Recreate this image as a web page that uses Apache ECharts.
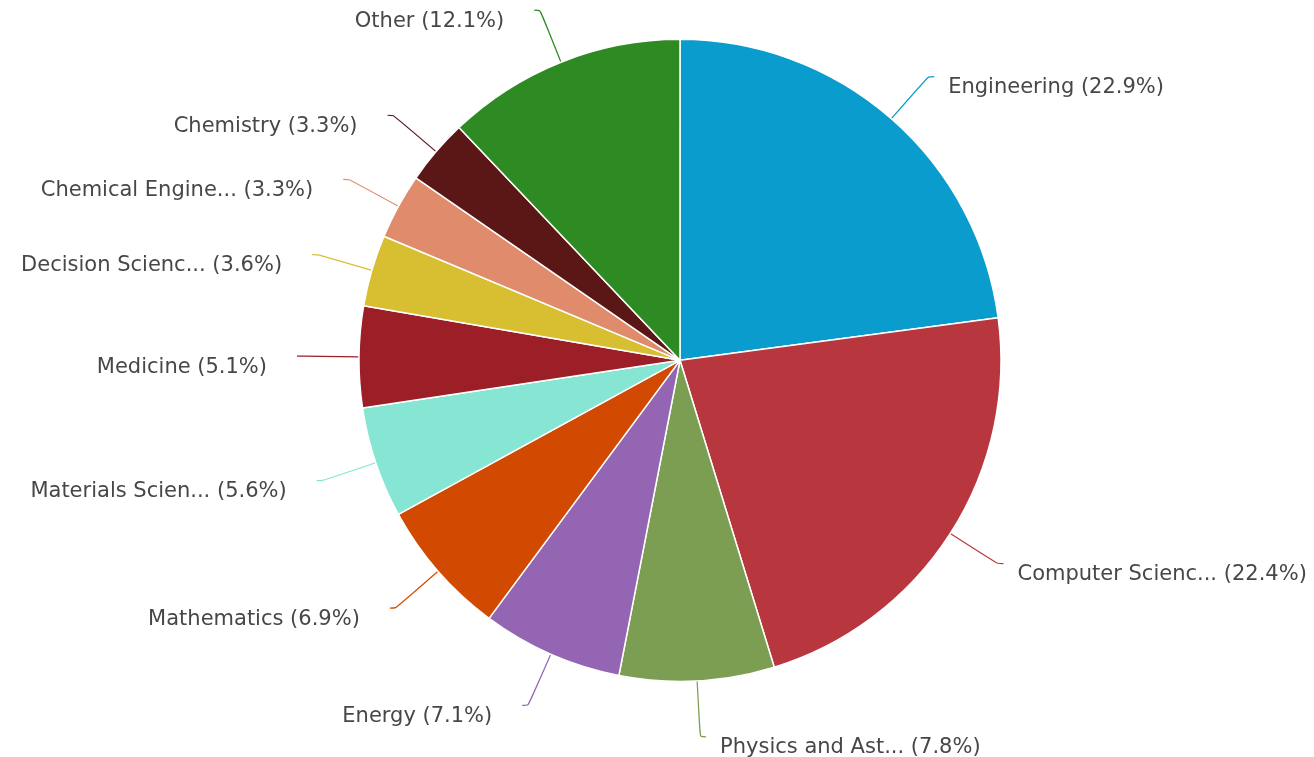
<!DOCTYPE html>
<html>
<head>
<meta charset="utf-8">
<style>
  html, body { margin: 0; padding: 0; background: #ffffff; }
  #chart { width: 1314px; height: 757px; }
</style>
<script src="https://cdn.jsdelivr.net/npm/echarts@6/dist/echarts.min.js"></script>
</head>
<body>
<div id="chart"></div>
<script>
// Share of publications by subject area (percent)
const categories = [
  'Engineering', 'Computer Scienc...', 'Physics and Ast...', 'Energy', 'Mathematics',
  'Materials Scien...', 'Medicine', 'Decision Scienc...', 'Chemical Engine...', 'Chemistry', 'Other'
];
const shares = [22.9, 22.4, 7.8, 7.1, 6.9, 5.6, 5.1, 3.6, 3.3, 3.3, 12.1];
const sliceColors = [
  '#0a9ccd', '#b8373f', '#7c9e52', '#9465b3', '#d24a02',
  '#86e6d3', '#9c1e27', '#d7bf31', '#e08b6b', '#5b1616', '#2e8b24'
];

const chart = echarts.init(document.getElementById('chart'), null, { renderer: 'canvas' });

// slices whose middle lies on the left half get a wider gap before their text
const total = shares.reduce((a, b) => a + b, 0);
let acc = 0;
const onLeft = shares.map((v) => {
  const mid = (acc + v / 2) / total;
  acc += v;
  return mid > 0.5;
});

chart.setOption({
  animation: false,
  backgroundColor: '#ffffff',
  series: [{
    type: 'pie',
    center: ['51.75%', '47.6%'],
    radius: 321,
    startAngle: 90,
    clockwise: true,
    avoidLabelOverlap: false,
    data: categories.map((name, i) => ({
      name,
      value: shares[i],
      itemStyle: { color: sliceColors[i] },
      label: { distanceToLabelLine: onLeft[i] ? 30 : 14 },
      labelLine: { lineStyle: { color: sliceColors[i] } }
    })),
    itemStyle: { borderColor: '#ffffff', borderWidth: 1.5 },
    label: {
      show: true,
      position: 'outside',
      // blank first line drops the text slightly below the end of its leader line
      formatter: (p) => '\n' + p.name + ' (' + p.value.toFixed(1) + '%)',
      fontFamily: '"DejaVu Sans", sans-serif',
      fontSize: 21,
      lineHeight: 22,
      color: '#474747'
    },
    labelLine: {
      show: true,
      length: 56,
      length2: 6,
      smooth: 0.25,
      lineStyle: { width: 1.2 }
    }
  }]
});
</script>
</body>
</html>
